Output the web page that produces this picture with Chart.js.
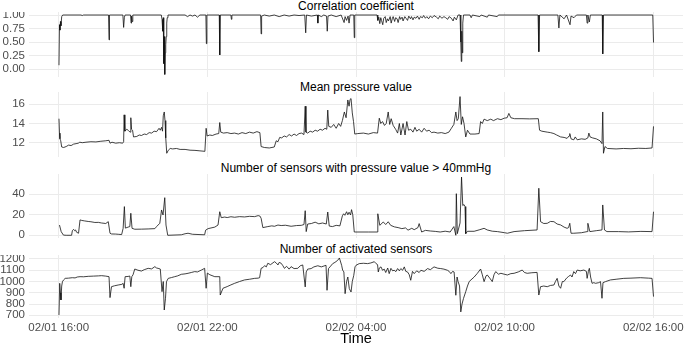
<!DOCTYPE html>
<html>
<head>
<meta charset="utf-8">
<script src="https://cdn.jsdelivr.net/npm/chart.js@4.4.1/dist/chart.umd.min.js"></script>
<style>
  body { margin: 0; background: #fff; }
  #wrap { position: relative; width: 685px; height: 345px; overflow: hidden; font-family: "Liberation Sans", Arial, sans-serif; }
  canvas { position: absolute; left: 0; }
  .title { position: absolute; left: 29px; width: 654px; text-align: center; font-size: 12px; line-height: 14px; color: #000; white-space: nowrap; }
  #xtitle { position: absolute; left: 29px; width: 654px; text-align: center; font-size: 14.5px; line-height: 16px; top: 330px; color: #000; }
</style>
</head>
<body>
<div id="wrap">
  <div class="title" style="top:-1px">Correlation coefficient</div>
  <canvas id="c1" width="685" height="65" style="top:12px"></canvas>
  <div class="title" style="top:80px">Mean pressure value</div>
  <canvas id="c2" width="685" height="65" style="top:92px"></canvas>
  <div class="title" style="top:161px">Number of sensors with pressure value &gt; 40mmHg</div>
  <canvas id="c3" width="685" height="64" style="top:174px"></canvas>
  <div class="title" style="top:242px">Number of activated sensors</div>
  <canvas id="c4" width="685" height="83" style="top:255px"></canvas>
  <div id="xtitle">Time</div>
</div>
<script>
// hours since 02/01 16:00
const hourTicks = [0, 6, 12, 18, 24];
const hourLabels = ['02/01 16:00', '02/01 22:00', '02/02 04:00', '02/02 10:00', '02/02 16:00'];

const corrTicks = [0, 0.25, 0.5, 0.75, 1];
const pressureTicks = [12, 14, 16];
const highTicks = [0, 20, 40];
const activeTicks = [700, 800, 900, 1000, 1100, 1200];

// [hour, value]
const corrPoints = [
  [0.01,0.07],[0.03,0.82],[0.05,0.72],[0.07,0.88],[0.09,0.80],[0.12,0.97],[0.16,1.0],
  [0.9,1.0],[0.95,0.99],[1.0,1.0],[2.01,1.0],[2.03,0.54],[2.05,1.0],
  [2.59,1.0],[2.62,0.77],[2.65,0.96],[2.68,1.0],[2.9,1.0],[2.92,0.85],[2.94,0.98],[2.96,0.88],[2.99,1.0],
  [4.14,1.0],[4.17,0.92],[4.2,0.7],[4.22,0.95],[4.24,0.1],[4.26,0.6],[4.28,-0.1],[4.3,0.3],[4.32,0.45],[4.34,0.6],[4.36,0.85],[4.38,0.95],[4.41,1.0],
  [5.1,1.0],[5.2,0.97],[5.3,1.0],[5.4,0.98],[5.5,1.0],[5.6,0.96],[5.7,1.0],
  [5.94,1.0],[5.96,0.47],[5.98,1.0],[6.48,1.0],[6.5,0.26],[6.52,1.0],
  [6.95,1.0],[6.97,0.92],[6.99,1.0],
  [8.15,1.0],[8.17,0.65],[8.19,0.98],[8.3,1.0],[8.5,0.98],[8.7,1.0],[8.9,0.97],[9.1,1.0],[9.3,0.98],[9.5,1.0],[9.7,0.99],
  [9.93,1.0],[9.97,0.67],[10.0,1.0],[10.2,0.98],
  [10.44,1.0],[10.46,0.85],[10.48,1.0],[10.6,0.97],[10.7,1.0],[10.81,0.98],[10.84,0.70],[10.87,0.98],[11.0,1.0],[11.2,0.97],[11.4,1.0],
  [11.52,0.86],[11.56,0.97],[11.62,0.9],[11.68,0.98],[11.72,0.85],[11.76,1.0],[11.91,1.0],[11.93,0.58],[11.95,1.0],
  [12.85,1.0],[12.88,0.9],[12.92,0.96],[12.96,0.84],[13.0,0.95],[13.03,0.9],[13.08,0.82],[13.12,0.94],[13.18,0.97],[13.22,0.86],
  [13.27,0.93],[13.31,0.89],[13.38,0.97],[13.42,0.85],[13.47,0.94],[13.5,0.97],[13.56,0.88],[13.6,0.95],[13.66,0.93],[13.7,0.86],
  [13.76,0.97],[13.8,0.92],[13.86,0.96],[13.9,0.89],[13.97,0.97],[14.02,0.94],[14.08,0.9],[14.13,0.98],[14.2,0.93],[14.24,0.97],
  [14.3,0.91],[14.35,0.96],[14.42,0.94],[14.48,0.98],[14.55,0.92],[14.6,0.97],[14.68,0.95],[14.73,0.99],[14.8,0.94],[14.86,0.97],
  [14.93,0.93],[15.0,0.98],[15.08,0.95],[15.15,0.99],[15.25,0.96],[15.32,0.93],[15.38,0.98],[15.47,0.94],[15.55,0.97],[15.62,0.95],
  [15.7,0.92],[15.76,0.97],[15.85,0.94],[15.92,0.89],[15.97,0.96],[16.05,0.91],[16.12,1.0],
  [16.2,1.0],[16.23,0.5],[16.25,0.14],[16.27,0.7],[16.29,0.3],[16.31,0.85],[16.34,1.0],
  [16.6,1.0],[16.65,0.95],[16.7,1.0],[17.0,0.97],[17.05,1.0],[17.3,0.96],[17.35,1.0],[17.7,0.97],[17.75,1.0],
  [19.35,1.0],[19.38,0.32],[19.41,1.0],
  [20.15,1.0],[20.19,0.76],[20.23,1.0],[20.4,0.93],[20.5,1.0],[20.64,0.82],[20.68,0.98],[20.8,0.95],[20.9,1.0],
  [21.3,1.0],[21.33,0.85],[21.36,1.0],[21.42,0.87],[21.46,1.0],
  [21.94,1.0],[21.96,0.28],[21.99,1.0],[23.98,1.0],[24.01,0.49]
];

const pressurePoints = [
  [0.01,14.5],[0.03,13.0],[0.05,12.4],[0.08,12.2],[0.12,11.55],[0.2,11.5],[0.3,11.6],[0.4,11.75],[0.5,11.7],[0.6,11.85],
  [0.7,11.9],[0.79,11.95],[0.85,12.05],[0.95,12.0],[1.1,12.05],[1.3,12.1],[1.5,12.08],[1.7,12.15],[1.9,12.2],[2.03,12.25],
  [2.07,11.95],[2.15,12.05],[2.3,11.95],[2.45,12.0],[2.58,11.95],[2.62,12.1],[2.64,14.9],[2.67,13.2],[2.75,13.4],[2.82,13.25],
  [2.88,13.1],[2.91,14.6],[2.94,13.4],[2.98,13.3],[3.02,12.6],[3.15,12.65],[3.25,12.8],[3.34,12.75],[3.45,12.9],[3.55,12.85],
  [3.65,13.05],[3.75,13.0],[3.85,13.2],[3.95,13.15],[4.05,13.5],[4.1,13.3],[4.15,13.6],[4.19,13.2],[4.22,14.8],[4.26,15.2],
  [4.29,14.3],[4.32,12.5],[4.36,10.9],[4.42,11.2],[4.5,11.4],[4.6,11.35],[4.75,11.4],[4.9,11.3],[5.1,11.3],[5.3,11.22],
  [5.5,11.2],[5.7,11.15],[5.9,11.1],[5.95,13.5],[5.99,12.7],[6.1,12.8],[6.2,12.75],[6.35,12.9],[6.46,12.95],[6.5,14.1],
  [6.54,13.1],[6.65,13.0],[6.8,13.05],[6.95,12.95],[7.1,13.0],[7.25,12.9],[7.4,13.05],[7.55,12.95],[7.7,13.1],[7.85,13.0],
  [8.0,13.15],[8.12,13.05],[8.17,11.6],[8.3,11.5],[8.5,11.45],[8.7,11.55],[8.78,12.2],[8.85,12.1],[8.92,12.55],[9.0,12.5],
  [9.1,12.7],[9.2,12.6],[9.3,12.85],[9.4,12.7],[9.5,12.9],[9.6,12.75],[9.7,12.95],[9.8,13.0],[9.9,12.85],[9.95,15.8],
  [9.98,13.1],[10.05,13.0],[10.15,13.2],[10.25,13.1],[10.35,13.3],[10.45,13.2],[10.55,13.4],[10.65,13.3],[10.75,13.5],[10.82,13.4],
  [10.86,15.4],[10.9,13.7],[11.0,13.6],[11.1,13.9],[11.2,13.5],[11.3,14.0],[11.38,13.7],[11.45,14.3],[11.53,15.2],[11.6,14.6],
  [11.67,16.45],[11.72,15.8],[11.76,16.5],[11.8,16.6],[11.85,15.1],[11.9,14.2],[11.95,12.9],[12.07,12.95],[12.3,13.0],[12.5,12.9],
  [12.7,13.05],[12.87,13.0],[12.94,14.55],[13.0,14.0],[13.07,14.2],[13.15,13.8],[13.22,14.0],[13.3,15.2],[13.36,13.9],[13.42,14.5],
  [13.5,13.8],[13.6,13.4],[13.68,13.0],[13.75,14.0],[13.81,12.8],[13.9,14.0],[13.98,12.8],[14.05,14.2],[14.12,13.3],[14.21,13.4],
  [14.3,13.1],[14.38,13.6],[14.45,13.2],[14.55,13.4],[14.65,13.1],[14.75,13.5],[14.85,13.2],[14.95,13.3],[15.05,13.05],[15.15,13.1],
  [15.3,13.0],[15.45,13.05],[15.6,12.95],[15.75,13.1],[15.85,13.5],[15.95,13.9],[16.03,15.2],[16.08,14.3],[16.13,14.5],[16.2,16.8],
  [16.25,13.9],[16.3,14.7],[16.36,14.0],[16.43,12.6],[16.5,13.3],[16.6,12.9],[16.8,12.9],[16.97,12.95],[17.03,14.2],[17.1,14.0],
  [17.17,14.45],[17.3,14.3],[17.44,14.45],[17.55,14.3],[17.71,14.5],[17.85,14.4],[17.98,14.55],[18.1,14.6],[18.17,15.05],[18.25,14.6],
  [18.4,14.5],[18.7,14.5],[19.0,14.48],[19.36,14.5],[19.41,13.3],[19.5,13.2],[19.72,13.1],[19.85,13.05],[19.99,12.95],[20.1,12.8],
  [20.26,12.6],[20.4,12.55],[20.52,12.45],[20.6,12.7],[20.63,12.95],[20.68,12.4],[20.79,12.3],[20.85,12.6],[20.93,12.3],[21.1,12.4],
  [21.25,12.35],[21.36,12.5],[21.4,13.0],[21.45,12.6],[21.55,12.5],[21.7,12.4],[21.85,12.2],[21.93,11.9],[21.96,15.2],[21.99,10.9],
  [22.05,11.6],[22.15,11.4],[22.5,11.35],[22.8,11.4],[23.1,11.37],[23.4,11.42],[23.7,11.4],[23.95,11.45],[24.01,13.7]
];

const highPoints = [
  [0.03,10],[0.1,3.5],[0.19,0.2],[0.3,0],[0.52,0],[0.55,4.5],[0.6,5.8],[0.64,4.5],[0.68,5.2],[0.72,3],
  [0.8,2],[0.86,15],[0.93,14.5],[1.05,14],[1.19,13.5],[1.3,13.2],[1.46,12.5],[1.6,12.6],[1.73,12.0],[1.9,11.5],
  [2.0,13.3],[2.07,2],[2.13,1.3],[2.3,1.2],[2.4,1],[2.54,0.7],[2.6,6.8],[2.65,28],[2.69,7],[2.8,8],
  [2.87,8.5],[2.91,21.5],[2.96,6.8],[3.07,5.9],[3.34,6],[3.61,6.2],[3.88,6.5],[3.95,8.5],[4.08,11.7],[4.15,24.7],
  [4.21,19.8],[4.28,36.7],[4.33,10],[4.4,0],[4.95,0.5],[5.1,1.5],[5.22,2],[5.4,1],[5.89,0.5],[5.93,5],
  [6.03,6.5],[6.3,8],[6.43,10],[6.5,23],[6.56,17.2],[6.7,17.8],[6.8,17.3],[6.95,18.1],[7.1,17.6],[7.3,18.2],
  [7.5,17.9],[7.7,18.5],[7.91,18.2],[8.05,19.2],[8.12,18.8],[8.17,16.6],[8.24,7.5],[8.44,8.5],[8.6,9.2],[8.71,8.8],
  [8.85,10],[8.98,9.5],[9.15,9.8],[9.38,8.8],[9.6,9.5],[9.79,9.7],[9.9,10.5],[9.95,24],[9.99,3.6],[10.05,11],
  [10.2,11.5],[10.35,12.8],[10.5,11.2],[10.65,12],[10.8,11],[10.86,22.7],[10.92,9],[11.05,8.5],[11.2,9.7],[11.35,9.2],
  [11.45,19],[11.5,21],[11.55,19.5],[11.62,23],[11.67,20],[11.72,22.5],[11.78,19.8],[11.82,25],[11.87,20],[11.93,3.2],
  [12.0,3.2],[12.5,3.2],[12.85,3.2],[12.88,21],[12.96,9.7],[13.1,13],[13.2,10.5],[13.3,13.2],[13.4,9.7],[13.55,8.2],
  [13.7,7.5],[13.85,6.5],[14.0,7.2],[14.1,5],[14.25,6.8],[14.35,5.5],[14.5,7.5],[14.55,11.4],[14.65,3.2],[14.8,4.8],
  [15.0,4.2],[15.2,3.8],[15.4,3.2],[15.6,4],[15.8,3.2],[15.95,8.5],[16.03,0],[16.05,40.6],[16.09,1.6],[16.2,12],
  [16.26,56.8],[16.31,29],[16.36,30],[16.4,28],[16.43,1.6],[16.5,3.9],[16.77,3.9],[17.0,5.5],[17.17,6.8],[17.3,5.2],
  [17.5,4],[17.71,3.6],[18.0,2.5],[18.11,2],[18.38,3.6],[18.8,4.5],[19.31,5.2],[19.38,45.9],[19.45,13.3],[19.58,11.5],
  [19.72,11.7],[19.85,13.5],[19.99,13.3],[20.12,11],[20.26,10.1],[20.4,8],[20.52,6.8],[20.58,7.5],[20.63,11.7],[20.68,2],
  [20.79,2],[21.1,2.5],[21.33,3.6],[21.36,11.7],[21.44,3.6],[21.7,4.5],[21.93,5.2],[21.96,29.6],[22.03,5.2],[22.13,3.6],
  [22.6,3.6],[23.0,3.3],[23.5,3.8],[23.95,3.6],[24.01,23]
];

const activePoints = [
  [0.01,703],[0.04,984],[0.07,900],[0.09,836],[0.12,960],[0.15,999],[0.2,1015],[0.26,1028],[0.4,1030],[0.55,1034],
  [0.66,1032],[0.75,1040],[0.86,1043],[1.0,1042],[1.19,1046],[1.4,1048],[1.6,1050],[1.73,1052],[1.9,1048],[2.03,1043],
  [2.07,857],[2.13,954],[2.25,962],[2.4,969],[2.55,975],[2.6,984],[2.64,940],[2.68,1043],[2.8,1045],[2.87,1049],
  [2.91,954],[2.95,1043],[3.0,1060],[3.07,1111],[3.2,1100],[3.34,1093],[3.45,1105],[3.61,1117],[3.75,1112],[3.88,1132],
  [3.95,1120],[4.01,1117],[4.1,1111],[4.17,910],[4.22,1000],[4.26,747],[4.31,851],[4.35,999],[4.42,1028],[4.55,1035],
  [4.68,1043],[4.8,1050],[4.95,1064],[5.1,1068],[5.22,1073],[5.35,1080],[5.49,1088],[5.6,1085],[5.76,1102],[5.89,1117],
  [5.95,940],[6.0,1075],[6.1,1060],[6.3,1043],[6.5,1043],[6.52,880],[6.63,940],[6.8,955],[6.95,970],[7.1,984],
  [7.3,1000],[7.5,1014],[7.7,1020],[7.91,1028],[8.05,1030],[8.11,1034],[8.17,1117],[8.25,1125],[8.31,1141],[8.38,1130],
  [8.44,1162],[8.55,1150],[8.71,1176],[8.78,1165],[8.85,1147],[8.9,1170],[8.98,1162],[9.05,1140],[9.11,1117],[9.2,1135],
  [9.3,1110],[9.38,1132],[9.5,1115],[9.65,1117],[9.75,1140],[9.85,1147],[9.95,952],[9.99,1085],[10.05,1110],[10.19,1115],
  [10.3,1130],[10.46,1140],[10.6,1130],[10.79,1144],[10.83,922],[10.89,1115],[10.95,1130],[11.06,1159],[11.15,1170],[11.26,1188],
  [11.33,1209],[11.42,1144],[11.46,1102],[11.51,1085],[11.56,892],[11.62,1000],[11.67,1040],[11.73,937],[11.8,907],[11.85,1000],
  [11.91,1055],[11.96,1130],[12.0,1144],[12.13,1159],[12.3,1162],[12.47,1159],[12.6,1165],[12.74,1176],[12.81,1159],[12.87,1150],
  [12.9,1085],[12.94,1120],[13.01,1130],[13.07,1100],[13.14,1110],[13.2,1080],[13.28,1120],[13.34,1070],[13.41,1117],[13.48,1095],
  [13.54,1100],[13.61,1088],[13.68,1115],[13.75,1095],[13.81,1115],[13.88,1100],[13.95,1130],[14.01,1090],[14.08,1085],[14.15,1060],
  [14.21,1011],[14.28,1090],[14.35,1070],[14.45,1095],[14.55,1080],[14.62,1100],[14.75,1090],[14.89,1115],[15.0,1105],[15.15,1130],
  [15.3,1118],[15.42,1115],[15.55,1110],[15.69,1100],[15.76,1090],[15.83,1070],[15.9,1090],[15.96,1085],[16.03,878],[16.08,1040],
  [16.12,1000],[16.18,960],[16.23,730],[16.28,800],[16.34,850],[16.43,910],[16.5,960],[16.57,1000],[16.77,1040],[16.9,1073],
  [17.03,1111],[17.1,1060],[17.17,999],[17.25,1050],[17.3,1058],[17.4,1030],[17.5,999],[17.57,1060],[17.64,1088],[17.75,1065],
  [17.85,1073],[17.98,1065],[18.11,1058],[18.25,1070],[18.38,1073],[18.55,1085],[18.71,1102],[18.8,1080],[18.91,1073],[19.1,1078],
  [19.31,1081],[19.38,880],[19.45,954],[19.58,960],[19.72,954],[19.85,965],[19.99,969],[20.05,1000],[20.12,1028],[20.19,960],
  [20.26,940],[20.33,1000],[20.39,999],[20.5,1030],[20.58,1045],[20.66,1058],[20.72,1040],[20.79,1088],[20.86,1070],[20.93,1102],
  [21.05,1095],[21.2,1102],[21.3,1090],[21.33,1028],[21.38,1090],[21.42,1117],[21.47,1040],[21.53,984],[21.6,990],[21.67,984],
  [21.8,990],[21.87,999],[21.93,851],[21.97,990],[22.07,999],[22.27,1014],[22.5,1020],[22.81,1028],[23.1,1030],[23.48,1034],
  [23.8,1030],[23.95,1028],[24.01,866]
];

const gridColor = '#ebebeb';
const tickColor = '#4d4d4d';
const fontFamily = '"Liberation Sans", Arial, sans-serif';

// keep the plot area where the canvas puts it (no room reserved for half labels)
function noPad(s) {
    s.paddingTop = 0;
    s.paddingBottom = 0;
    s.paddingLeft = 0;
    s.paddingRight = 0;
}

function makePanel(id, points, yMin, yMax, yTicks, fmt, showX) {
    return new Chart(document.getElementById(id), {
        type: 'line',
        data: {
            datasets: [{
                data: points.map(p => ({ x: p[0], y: p[1] })),
                borderColor: '#111',
                borderWidth: 0.8,
                pointRadius: 0,
                tension: 0,
                fill: false
            }]
        },
        options: {
            responsive: false,
            animation: false,
            devicePixelRatio: 1,
            layout: { padding: { left: 0, right: 2, top: 0, bottom: 0 } },
            plugins: { legend: { display: false }, tooltip: { enabled: false } },
            scales: {
                x: {
                    type: 'linear',
                    min: -1.2,
                    max: 25.2,
                    border: { display: false },
                    grid: { color: gridColor, lineWidth: 1, drawTicks: false },
                    afterBuildTicks: s => { s.ticks = hourTicks.map(v => ({ value: v })); },
                    afterFit: s => { s.height = showX ? 20 : 0; noPad(s); },
                    ticks: {
                        display: showX,
                        autoSkip: false,
                        maxRotation: 0,
                        padding: 3,
                        color: tickColor,
                        font: { family: fontFamily, size: 11.5 },
                        callback: v => hourLabels[hourTicks.indexOf(v)]
                    }
                },
                y: {
                    min: yMin,
                    max: yMax,
                    border: { display: false },
                    grid: { color: gridColor, lineWidth: 1, drawTicks: false },
                    afterBuildTicks: s => { s.ticks = yTicks.map(v => ({ value: v })); },
                    afterFit: s => { s.width = 29; noPad(s); },
                    ticks: {
                        autoSkip: false,
                        padding: 4,
                        color: tickColor,
                        font: { family: fontFamily, size: 11.5 },
                        callback: fmt
                    }
                }
            }
        }
    });
}

makePanel('c1', corrPoints, -0.148, 1.0556, corrTicks, v => v.toFixed(2), false);
makePanel('c2', pressurePoints, 10.51, 17.28, pressureTicks, v => v, false);
makePanel('c3', highPoints, -2.64, 59.8, highTicks, v => v, false);
makePanel('c4', activePoints, 676, 1235.5, activeTicks, v => v, true);
</script>
</body>
</html>
